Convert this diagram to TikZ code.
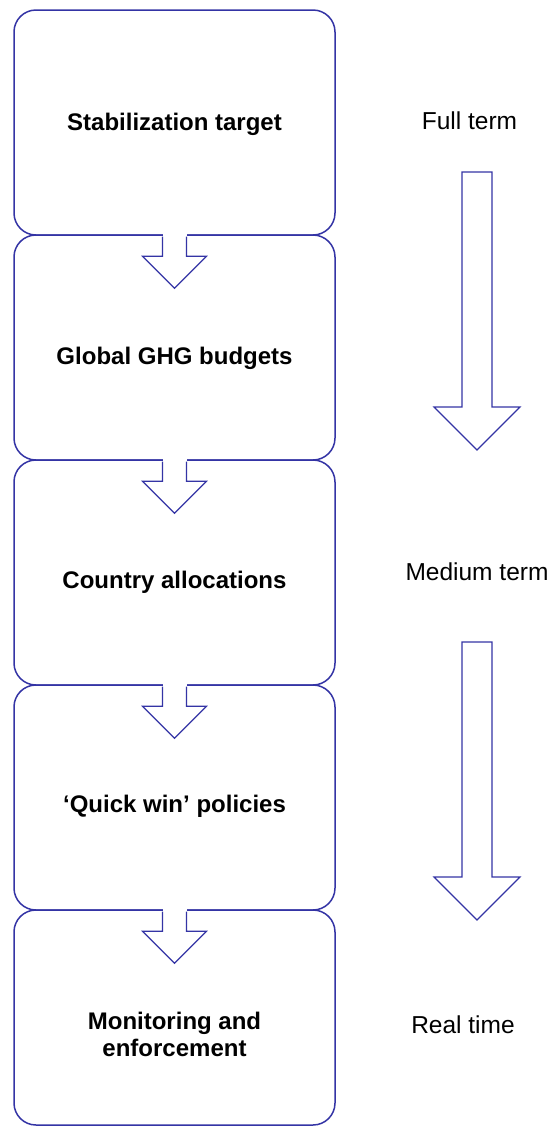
\documentclass[tikz,border=0pt]{standalone}
\usepackage{fontspec}
\setmainfont{Liberation Sans}
\usetikzlibrary{calc}
\definecolor{edgeblue}{RGB}{52,52,165}
\begin{document}
\begin{tikzpicture}[x=1pt,y=-1pt,
  box/.style={draw=edgeblue, line width=1.5pt, rounded corners=22pt, minimum width=321pt, minimum height=225pt, inner sep=0pt, fill=white},
  boxtext/.style={anchor=base, font=\fontsize{24}{27}\selectfont\bfseries, align=center, inner sep=0pt},
  sidetext/.style={anchor=base, font=\fontsize{24.5}{28}\selectfont, inner sep=0pt},
  arr/.style={draw=edgeblue, line width=1.2pt, fill=white, line join=miter}]
\useasboundingbox (0,0) rectangle (555,1128);
% boxes
\node[box] (b1) at (174.5,122.5) {};
\node[box] (b2) at (174.5,347.5) {};
\node[box] (b3) at (174.5,572.5) {};
\node[box] (b4) at (174.5,797.5) {};
\node[box, minimum height=215pt] (b5) at (174.5,1017.5) {};
% box texts
\node[boxtext] (t1) at (174.5,130) {Stabilization target};
\node[boxtext] (t2) at (174.5,364) {Global GHG budgets};
\node[boxtext] (t3) at (174.5,588) {Country allocations};
\node[boxtext] (t4) at (174.5,812) {‘Quick win’ policies};
\node[boxtext, anchor=north] (t5) at (174.5,1012) {Monitoring and\\enforcement};
% arrows between boxes
\foreach \u/\l in {b1/b2,b2/b3,b3/b4,b4/b5}{
  \fill[white] ($(\u.south)+(-12,-3)$) rectangle ($(\l.north)+(12,4)$);
  \path[arr] ($(\u.south)+(-12,0.8)$) -- ($(\l.north)+(-12,22)$) -- ++(-20,0) -- ++(32,32) -- ++(32,-32) -- ++(-20,0) -- ($(\u.south)+(12,0.8)$);
}
% side labels
\node[sidetext] (s1) at (469.5,129) {Full term};
\node[sidetext] (s2) at (477,580) {Medium term};
\node[sidetext] (s3) at (463,1033) {Real time};
% big arrows
\coordinate (a1) at (477,172);
\coordinate (a2) at (477,642);
\foreach \a in {a1,a2}{
  \draw[arr] ($(\a)+(-15,0)$) -- ++(0,235) -- ++(-28,0) -- ++(43,43) -- ++(43,-43) -- ++(-28,0) -- ($(\a)+(15,0)$) -- cycle;
}
\end{tikzpicture}
\end{document}
